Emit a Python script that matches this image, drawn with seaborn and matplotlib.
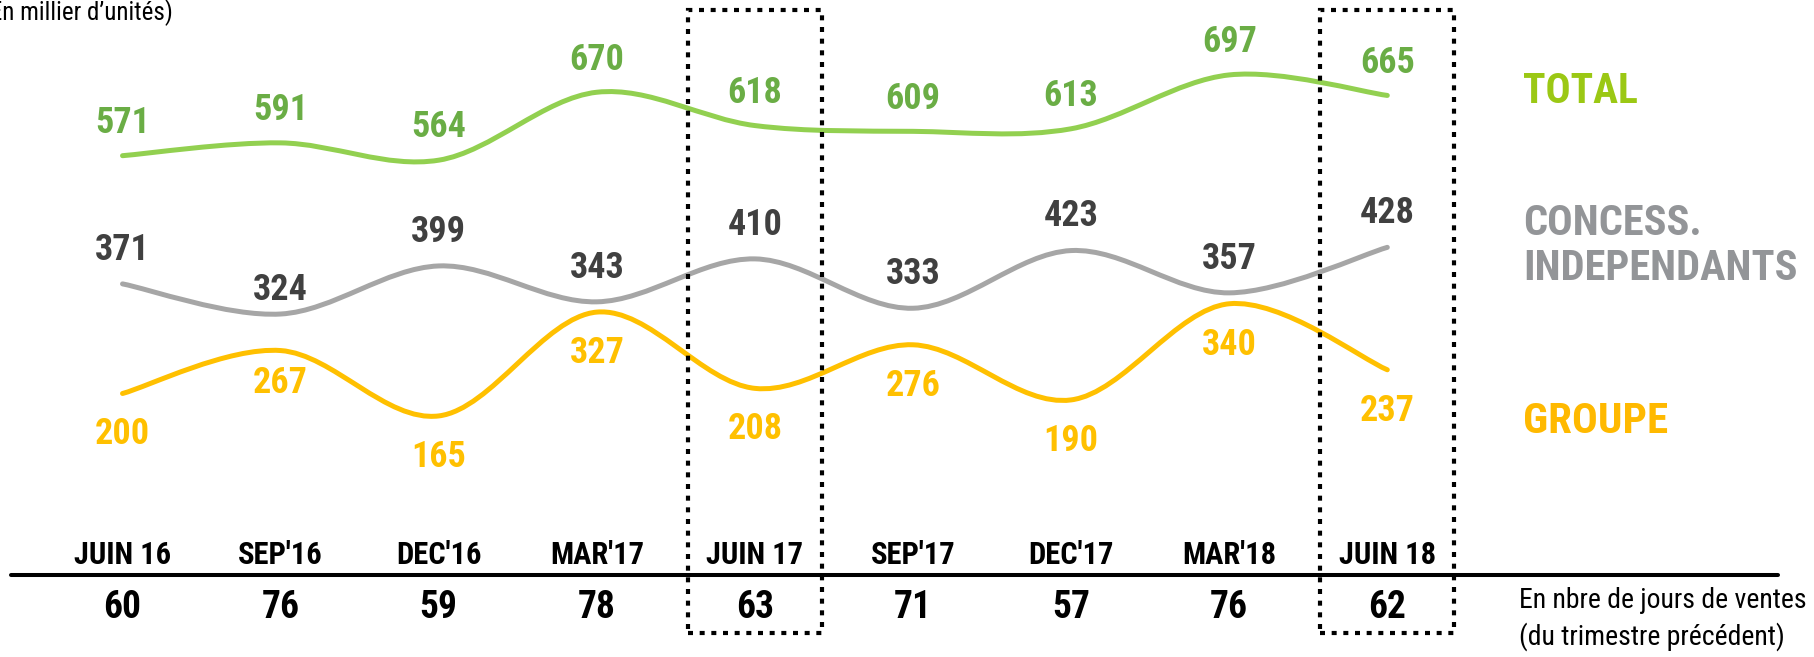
import numpy as np
import pandas as pd
import matplotlib
matplotlib.use("Agg")
import matplotlib.pyplot as plt
from matplotlib.path import Path
from matplotlib.patches import PathPatch, Rectangle
from matplotlib.lines import Line2D
import seaborn as sns

# data (en milliers d'unites)
quarters = ["JUIN 16", "SEP'16", "DEC'16", "MAR'17", "JUIN 17",
            "SEP'17", "DEC'17", "MAR'18", "JUIN 18"]
total = [571, 591, 564, 670, 618, 609, 613, 697, 665]
concess = [371, 324, 399, 343, 410, 333, 423, 357, 428]
groupe = [200, 267, 165, 327, 208, 276, 190, 340, 237]
jours_ventes = [60, 76, 59, 78, 63, 71, 57, 76, 62]
highlighted = ["JUIN 17", "JUIN 18"]

series_names = ["TOTAL", "CONCESS", "GROUPE"]

sns.set_theme(style="white")
plt.rcParams["font.family"] = ["Roboto Condensed", "Liberation Sans", "DejaVu Sans"]

W, H = 1814, 657
PT = 100 / 72.0  # px per point


def fy(py):
    return 1 - py / H


def smooth_path(xs, ys):
    # Catmull-Rom style bezier like the office "smoothed line"
    pts = np.column_stack([xs, ys]).astype(float)
    ext = np.vstack([pts[0], pts, pts[-1]])
    verts = [pts[0]]
    codes = [Path.MOVETO]
    for k in range(len(pts) - 1):
        p0, p1, p2, p3 = ext[k], ext[k + 1], ext[k + 2], ext[k + 3]
        verts += [p1 + (p2 - p0) / 6, p2 - (p3 - p1) / 6, p2]
        codes += [Path.CURVE4] * 3
    return Path(verts, codes)


df = pd.DataFrame({"quarter": quarters, "TOTAL": total,
                   "CONCESS": concess, "GROUPE": groupe})
df["pos"] = np.arange(len(df))

fig = plt.figure(figsize=(W / 100, H / 100), dpi=100)
ax = fig.add_axes([0, 0, 1, 1])
ax.set_xlim(-0.775, 10.699)
ax.set_ylim(-211.1, 813.9)
ax.axis("off")

line_colors = {"TOTAL": "#92D050", "CONCESS": "#A6A6A6", "GROUPE": "#FFC000"}
label_colors = {"TOTAL": "#6AAD45", "CONCESS": "#404040", "GROUPE": "#FFC000"}
# label centre offset from the point, in px (positive = above)
label_offsets = {"TOTAL": [35.5] * 9,
                 "CONCESS": [37, 27, 37, 37, 37, 37, 37, 37, 37],
                 "GROUPE": [-38, -30, -38, -38, -38, -38, -38, -38, -38]}

CAP = 0.355  # half cap height, in em
val_size = 26
for name in series_names:
    path = smooth_path(df["pos"], df[name])
    ax.add_patch(PathPatch(path, fill=False, edgecolor=line_colors[name],
                           lw=3.6, capstyle="round", joinstyle="round", zorder=3))
    for i, v in enumerate(df[name]):
        off = label_offsets[name][i] / PT - CAP * val_size
        ax.annotate(str(v), (i, v), xytext=(0, off), textcoords="offset points",
                    ha="center", va="baseline", fontsize=val_size,
                    fontweight="bold", color=label_colors[name])

trans = ax.get_xaxis_transform()

# dotted boxes around the june quarters
for q in highlighted:
    i = quarters.index(q)
    ax.add_patch(Rectangle((i - 0.424, fy(633)), 0.848, fy(10) - fy(633),
                           transform=trans, fill=False, edgecolor="black",
                           lw=3.0, ls=(0, (1.2, 1.6)), zorder=4))

# quarter labels and sales-days row
cat_size = 22
num_size = 27
for i, q in enumerate(quarters):
    ax.text(i, fy(553 + CAP * cat_size * PT), q, transform=trans, ha="center",
            va="baseline", fontsize=cat_size, fontweight="bold", color="black")
    ax.text(i, fy(605 + CAP * num_size * PT), str(jours_ventes[i]), transform=trans,
            ha="center", va="baseline", fontsize=num_size, fontweight="bold", color="black")

fig.add_artist(Line2D([11 / W, 1778 / W], [fy(575), fy(575)], color="black", lw=2.9))

# series names on the right
fig.text(1523 / W, fy(88 + CAP * 30 * PT), "TOTAL", ha="left", va="baseline",
         fontsize=30, fontweight="bold", color="#9BC814")
fig.text(1523 / W, fy(220 + CAP * 30.5 * PT), "CONCESS.", ha="left", va="baseline",
         fontsize=30.5, fontweight="bold", color="#939598")
fig.text(1523 / W, fy(265 + CAP * 30.5 * PT), "INDEPENDANTS", ha="left", va="baseline",
         fontsize=30.5, fontweight="bold", color="#939598")
fig.text(1523 / W, fy(418 + CAP * 31 * PT), "GROUPE", ha="left", va="baseline",
         fontsize=31, fontweight="bold", color="#FFB900")

note_size = 20
fig.text(1519 / W, fy(598 + CAP * note_size * PT), "En nbre de jours de ventes",
         ha="left", va="baseline", fontsize=note_size, color="black")
fig.text(1519 / W, fy(635 + CAP * note_size * PT), "(du trimestre précédent)",
         ha="left", va="baseline", fontsize=note_size, color="black")
fig.text(173 / W, fy(20), "(En millier d’unités)", ha="right", va="baseline",
         fontsize=18, color="black")

fig.savefig("out.png", dpi=100)
plt.close(fig)
